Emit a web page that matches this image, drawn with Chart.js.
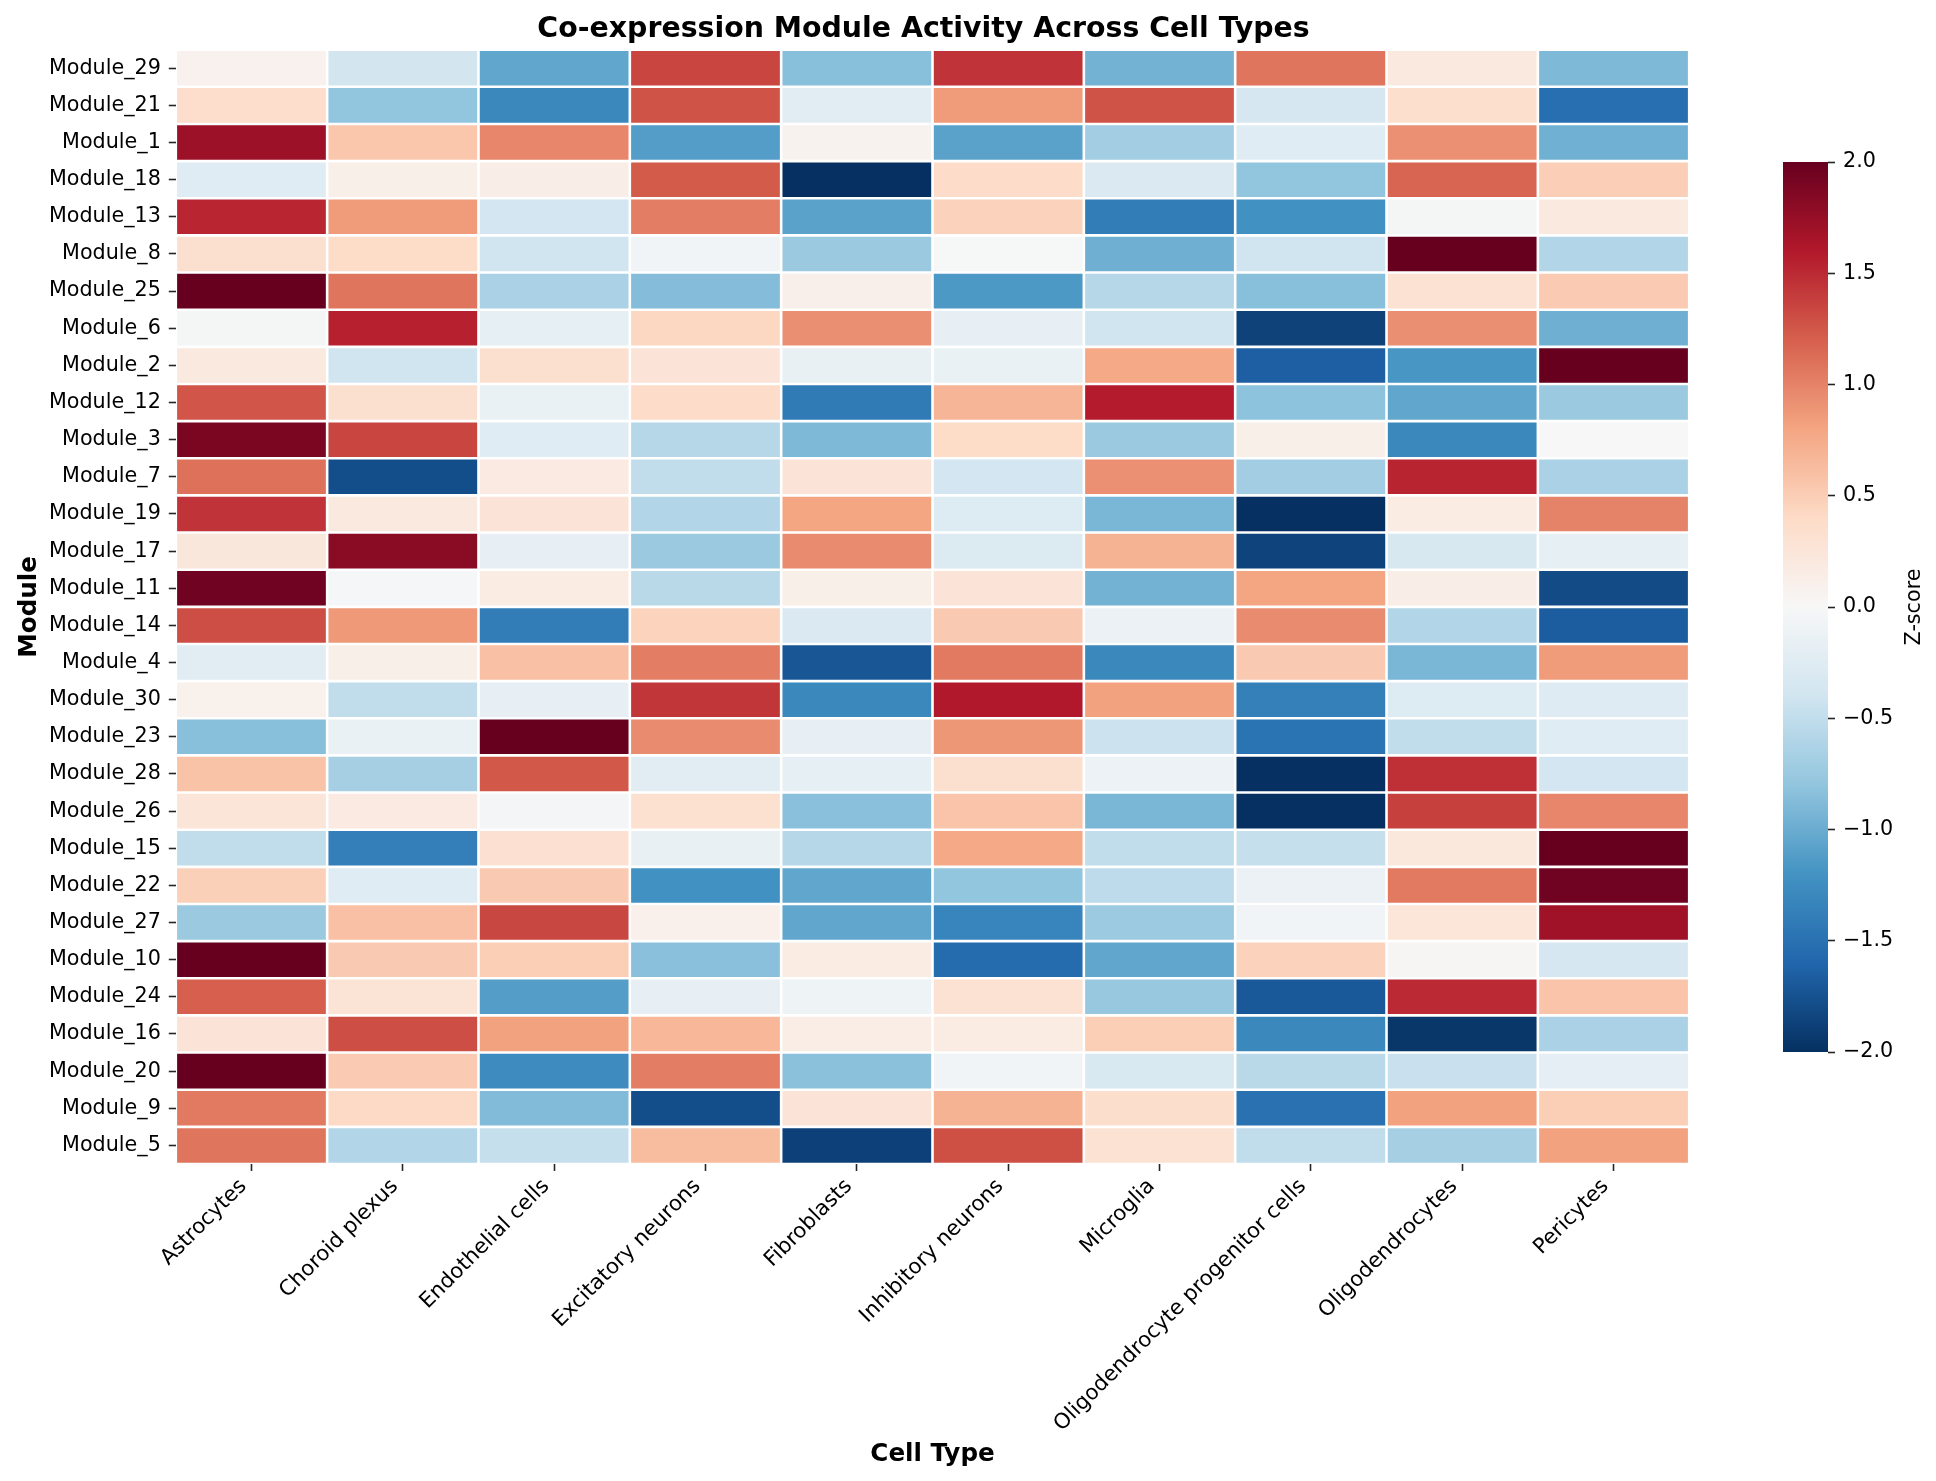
<!DOCTYPE html>
<html>
<head>
<meta charset="utf-8">
<script src="https://cdn.jsdelivr.net/npm/chart.js@4"></script>
<style>
  html, body { margin: 0; padding: 0; background: #fff; }
  canvas { position: absolute; top: 0; }
  #heatmap { left: 0; }
  #colorbar { left: 1700px; }
</style>
</head>
<body>
<canvas id="heatmap" width="1832" height="1481"></canvas>
<canvas id="colorbar" width="236" height="1481"></canvas>
<script>
const modules = ['Module_29','Module_21','Module_1','Module_18','Module_13','Module_8','Module_25','Module_6','Module_2','Module_12',
  'Module_3','Module_7','Module_19','Module_17','Module_11','Module_14','Module_4','Module_30','Module_23','Module_28',
  'Module_26','Module_15','Module_22','Module_27','Module_10','Module_24','Module_16','Module_20','Module_9','Module_5']
const cellTypes = ['Astrocytes','Choroid plexus','Endothelial cells','Excitatory neurons','Fibroblasts','Inhibitory neurons',
  'Microglia','Oligodendrocyte progenitor cells','Oligodendrocytes','Pericytes']

// z-scores per cell type, read top to bottom in module order
const astrocytes = [.08,.37,1.72,-.24,1.52,.33,2,-.03,.2,1.26,1.9,1.1,1.45,.23,1.95,1.3,-.22,.09,-.85,.58,.26,-.5,.48,-.75,2,1.2,.27,2,1.05,1.08]
const choroidPlexus = [-.38,-.8,.55,.12,.85,.39,1.08,1.55,-.4,.33,1.35,-1.78,.2,1.82,-.02,.87,.12,-.5,-.14,-.67,.18,-1.38,-.24,.6,.53,.28,1.3,.52,.41,-.6]
const endothelial = [-1.05,-1.3,.98,.13,-.37,-.4,-.65,-.18,.33,-.14,-.24,.18,.27,-.17,.17,-1.4,.6,-.17,2,1.24,-.04,.31,.53,1.34,.5,-1.12,.82,-1.27,-.88,-.47]
const excitatory = [1.35,1.27,-1.12,1.23,1.03,-.07,-.87,.43,.27,.38,-.57,-.5,-.6,-.75,-.55,.45,1.03,1.43,.95,-.22,.32,-.15,-1.22,.1,-.84,-.17,.67,1.03,-1.78,.63]
const fibroblasts = [-.85,-.22,.07,-2,-1.08,-.75,.11,.93,-.16,-1.42,-.9,.27,.8,.95,.12,-.29,-1.72,-1.3,-.17,-.18,-.84,-.58,-1.05,-1.05,.17,-.09,.15,-.83,.27,-1.88]
const inhibitory = [1.45,.85,-1.08,.38,.47,-.01,-1.15,-.17,-.14,.68,.39,-.37,-.27,-.28,.27,.53,1.05,1.6,.88,.33,.57,.77,-.8,-1.33,-1.55,.3,.17,-.07,.7,1.29]
const microglia = [-.95,1.27,-.7,-.3,-1.4,-.98,-.57,-.4,.77,1.58,-.75,.92,-.92,.7,-.95,-.13,-1.3,.82,-.43,-.12,-.92,-.5,-.53,-.74,-1.05,-.76,.5,-.32,.36,.3]
const opc = [1.08,-.35,-.25,-.8,-1.22,-.4,-.85,-1.87,-1.65,-.82,.12,-.7,-2,-1.86,.8,.95,.53,-1.37,-1.48,-2,-2,-.47,-.13,-.07,.47,-1.7,-1.3,-.55,-1.5,-.5]
const oligodendrocytes = [.2,.35,.92,1.17,-.03,2,.3,.93,-1.18,-1.05,-1.3,1.53,.17,-.33,.13,-.6,-.92,-.27,-.5,1.47,1.38,.22,1.05,.25,.03,1.5,-1.95,-.45,.82,-.67]
const pericytes = [-.9,-1.52,-.97,.49,.2,-.6,.52,-.98,2,-.75,0,-.65,1,-.18,-1.8,-1.67,.85,-.26,-.25,-.37,.98,2,1.95,1.7,-.35,.57,-.65,-.2,.5,.82]

const columns = [astrocytes, choroidPlexus, endothelial, excitatory, fibroblasts, inhibitory, microglia, opc, oligodendrocytes, pericytes]

// RdBu_r anchors, evenly spaced from -2 to 2
const rdbu = ['#053061','#2166ac','#4393c3','#92c5de','#d1e5f0','#f7f7f7','#fddbc7','#f4a582','#d6604d','#b2182b','#67001f']

const hexToRgb = hex => [1, 3, 5].map(i => parseInt(hex.slice(i, i + 2), 16))

const zColor = z => {
    const t = (Math.max(-2, Math.min(2, z)) + 2) / 4 * (rdbu.length - 1)
    const i = Math.min(Math.floor(t), rdbu.length - 2)
    const a = hexToRgb(rdbu[i])
    const b = hexToRgb(rdbu[i + 1])
    const c = a.map((v, k) => Math.round(v + (b[k] - v) * (t - i)))
    return `rgb(${c[0]},${c[1]},${c[2]})`
}

const FONT = '"DejaVu Sans"'
const tickFont = { family: FONT, size: 20.7 }
const tickGrid = { drawOnChartArea: false, tickLength: 7, tickColor: '#262626', tickWidth: 1.6, offset: false }

Chart.defaults.animation = false
Chart.defaults.color = '#000'

new Chart(document.getElementById('heatmap'), {
    type: 'bar',
    data: {
        labels: modules,
        datasets: columns.map((col, i) => ({
            label: cellTypes[i],
            data: col.map(() => 1),
            backgroundColor: col.map(zColor),
            borderColor: '#fff',
            borderWidth: 1.3,
            borderSkipped: false,
            inflateAmount: 0,
            barPercentage: 1,
            categoryPercentage: 1
        }))
    },
    options: {
        indexAxis: 'y',
        responsive: false,
        layout: { autoPadding: false, padding: { left: 15, right: 0, top: 0, bottom: 12 } },
        plugins: {
            legend: { display: false },
            tooltip: { enabled: false },
            title: {
                display: true,
                text: 'Co-expression Module Activity Across Cell Types',
                color: '#000',
                font: { family: FONT, size: 28.4, weight: 'bold', lineHeight: 1.2 },
                padding: { top: 13, bottom: 2.6 }
            }
        },
        scales: {
            x: {
                type: 'linear',
                stacked: true,
                min: 0,
                max: cellTypes.length,
                afterBuildTicks: scale => { scale.ticks = cellTypes.map((_, i) => ({ value: i + 0.5 })) },
                afterFit: scale => { scale.height = 305 },
                border: { display: false },
                grid: tickGrid,
                ticks: {
                    autoSkip: false,
                    minRotation: 45,
                    maxRotation: 45,
                    padding: 3,
                    labelOffset: -8,
                    font: { family: FONT, size: 21.2 },
                    callback: value => cellTypes[value - 0.5]
                },
                title: { display: true, text: 'Cell Type', color: '#000', font: { family: FONT, size: 24.6, weight: 'bold' }, padding: 0 }
            },
            y: {
                stacked: true,
                afterFit: scale => { scale.width = 160.8 },
                border: { display: false },
                grid: tickGrid,
                ticks: { autoSkip: false, padding: 8, font: tickFont },
                title: { display: true, text: 'Module', color: '#000', font: { family: FONT, size: 24.6, weight: 'bold' }, padding: 0 }
            },
            // empty axis: reserves the room that puts the title where the reference has it
            titleRoom: {
                type: 'linear',
                position: 'right',
                afterFit: scale => { scale.width = 142.8 },
                border: { display: false },
                grid: { display: false },
                ticks: { display: false }
            }
        }
    }
})

// rotated the other way from what a right-hand scale title gives
const colorbarLabel = {
    id: 'colorbarLabel',
    afterDraw(chart) {
        const { ctx, chartArea } = chart
        ctx.save()
        ctx.translate(215, (chartArea.top + chartArea.bottom) / 2)
        ctx.rotate(-Math.PI / 2)
        ctx.font = `20.7px ${FONT}`
        ctx.fillStyle = '#000'
        ctx.textAlign = 'center'
        ctx.textBaseline = 'middle'
        ctx.fillText('Z-score', 0, 0)
        ctx.restore()
    }
}

new Chart(document.getElementById('colorbar'), {
    type: 'bar',
    data: {
        labels: ['Z-score'],
        datasets: [{
            data: [[-2, 2]],
            barPercentage: 1,
            categoryPercentage: 1,
            borderSkipped: false,
            inflateAmount: 0,
            backgroundColor: ctx => {
                const area = ctx.chart.chartArea
                if (!area) return '#fff'
                const gradient = ctx.chart.ctx.createLinearGradient(0, area.bottom, 0, area.top)
                rdbu.forEach((c, i) => gradient.addColorStop(i / (rdbu.length - 1), c))
                return gradient
            }
        }]
    },
    plugins: [colorbarLabel],
    options: {
        responsive: false,
        layout: { autoPadding: false, padding: { left: 83, right: 0, top: 162, bottom: 429 } },
        plugins: { legend: { display: false }, tooltip: { enabled: false } },
        scales: {
            x: { display: false },
            y: {
                position: 'right',
                min: -2,
                max: 2,
                afterFit: scale => { scale.width = 108 },
                border: { display: false },
                grid: tickGrid,
                ticks: {
                    stepSize: 0.5,
                    padding: 8,
                    font: tickFont,
                    callback: value => value.toFixed(1).replace('-', '\u2212')
                }
            }
        }
    }
})
</script>
</body>
</html>
